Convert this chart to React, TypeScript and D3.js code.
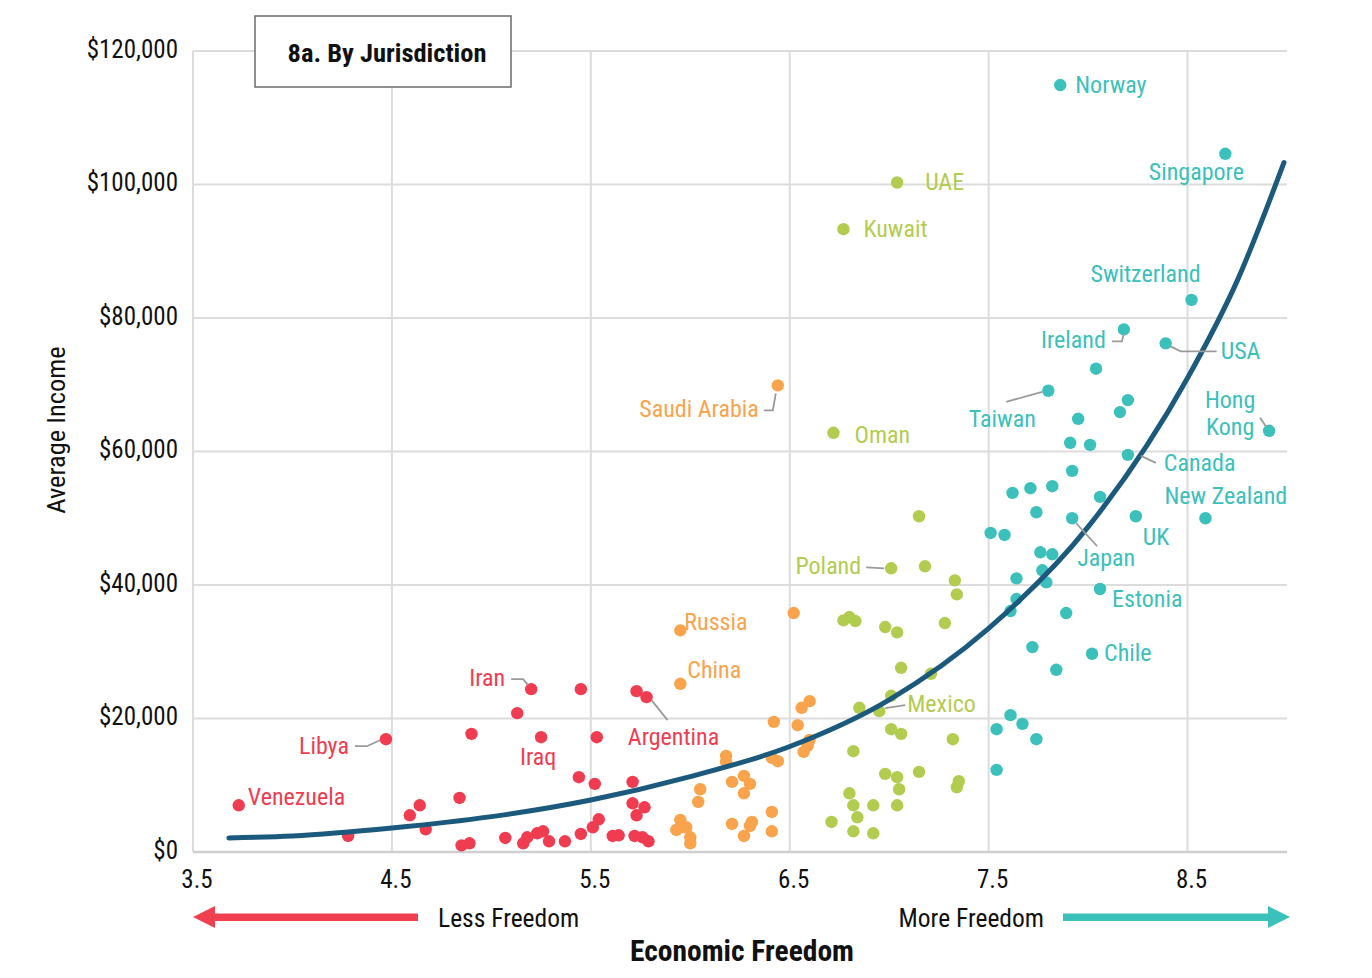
import * as d3 from 'd3';

// ---- data ----
const X_TICKS = [3.5, 4.5, 5.5, 6.5, 7.5, 8.5];
const Y_TICKS = [0, 20000, 40000, 60000, 80000, 100000, 120000];

type Pt = { x: number; y: number; name?: string };

// least free quartile
const leastFree: Pt[] = [
  { x: 3.73, y: 7000, name: 'Venezuela' }, { x: 4.28, y: 2400 }, { x: 4.47, y: 16900, name: 'Libya' },
  { x: 4.59, y: 5500 }, { x: 4.64, y: 7000 }, { x: 4.67, y: 3400 }, { x: 4.84, y: 8100 },
  { x: 4.9, y: 17700 }, { x: 4.85, y: 1000 }, { x: 4.89, y: 1300 }, { x: 5.07, y: 2100 },
  { x: 5.13, y: 20800 }, { x: 5.2, y: 24400, name: 'Iran' }, { x: 5.16, y: 1300 }, { x: 5.18, y: 2200 },
  { x: 5.23, y: 2800 }, { x: 5.26, y: 3100 }, { x: 5.29, y: 1600 }, { x: 5.25, y: 17200, name: 'Iraq' },
  { x: 5.37, y: 1600 }, { x: 5.44, y: 11200 }, { x: 5.45, y: 24400 }, { x: 5.45, y: 2700 },
  { x: 5.51, y: 3700 }, { x: 5.53, y: 17200 }, { x: 5.52, y: 10200 }, { x: 5.54, y: 4900 },
  { x: 5.61, y: 2400 }, { x: 5.64, y: 2500 }, { x: 5.71, y: 10500 }, { x: 5.71, y: 7300 },
  { x: 5.73, y: 5500 }, { x: 5.77, y: 6700 }, { x: 5.72, y: 2400 }, { x: 5.76, y: 2200 },
  { x: 5.79, y: 1600 }, { x: 5.73, y: 24100 }, { x: 5.78, y: 23200, name: 'Argentina' },
];

// second quartile
const lessFree: Pt[] = [
  { x: 5.95, y: 33200, name: 'Russia' }, { x: 5.95, y: 25200, name: 'China' },
  { x: 6.44, y: 69900, name: 'Saudi Arabia' }, { x: 6.52, y: 35800 }, { x: 6.6, y: 22600 },
  { x: 6.56, y: 21600 }, { x: 6.42, y: 19500 }, { x: 6.54, y: 19000 }, { x: 6.6, y: 16800 },
  { x: 6.59, y: 15900 }, { x: 6.57, y: 15000 }, { x: 6.18, y: 14400 }, { x: 6.18, y: 13500 },
  { x: 6.41, y: 14100 }, { x: 6.44, y: 13600 }, { x: 6.27, y: 11400 }, { x: 6.3, y: 10200 },
  { x: 6.21, y: 10500 }, { x: 6.27, y: 8800 }, { x: 6.05, y: 9400 }, { x: 6.04, y: 7500 },
  { x: 6.41, y: 6000 }, { x: 5.95, y: 4800 }, { x: 5.95, y: 3700 }, { x: 5.98, y: 3700 },
  { x: 5.93, y: 3300 }, { x: 6.0, y: 2200 }, { x: 6.0, y: 1300 }, { x: 6.21, y: 4200 },
  { x: 6.31, y: 4500 }, { x: 6.3, y: 3900 }, { x: 6.41, y: 3100 }, { x: 6.27, y: 2400 },
];

// third quartile
const moreFree: Pt[] = [
  { x: 7.04, y: 100300, name: 'UAE' }, { x: 6.77, y: 93300, name: 'Kuwait' }, { x: 6.72, y: 62800, name: 'Oman' },
  { x: 7.15, y: 50300 }, { x: 7.01, y: 42500, name: 'Poland' }, { x: 7.18, y: 42800 }, { x: 7.33, y: 40700 },
  { x: 7.34, y: 38600 }, { x: 6.77, y: 34700 }, { x: 6.8, y: 35200 }, { x: 6.83, y: 34600 },
  { x: 6.98, y: 33700 }, { x: 7.04, y: 32900 }, { x: 7.28, y: 34300 }, { x: 7.06, y: 27600 },
  { x: 7.21, y: 26700 }, { x: 7.01, y: 23400 }, { x: 6.95, y: 21100, name: 'Mexico' }, { x: 6.85, y: 21600 },
  { x: 7.01, y: 18400 }, { x: 7.06, y: 17700 }, { x: 7.32, y: 16900 }, { x: 6.82, y: 15100 },
  { x: 6.98, y: 11700 }, { x: 7.04, y: 11200 }, { x: 7.15, y: 12000 }, { x: 7.05, y: 9400 },
  { x: 7.35, y: 10600 }, { x: 7.34, y: 9700 }, { x: 6.8, y: 8800 }, { x: 6.82, y: 7000 },
  { x: 6.92, y: 7000 }, { x: 7.04, y: 7000 }, { x: 6.84, y: 5200 }, { x: 6.71, y: 4500 },
  { x: 6.82, y: 3100 }, { x: 6.92, y: 2800 },
];

// most free quartile
const mostFree: Pt[] = [
  { x: 7.86, y: 114900, name: 'Norway' }, { x: 8.69, y: 104600, name: 'Singapore' },
  { x: 8.52, y: 82700, name: 'Switzerland' }, { x: 8.18, y: 78300, name: 'Ireland' },
  { x: 8.39, y: 76200, name: 'USA' }, { x: 8.04, y: 72400 }, { x: 7.8, y: 69100, name: 'Taiwan' },
  { x: 8.2, y: 67700 }, { x: 8.16, y: 65900 }, { x: 7.95, y: 64900 }, { x: 8.91, y: 63100, name: 'Hong Kong' },
  { x: 7.91, y: 61300 }, { x: 8.01, y: 61000 }, { x: 8.2, y: 59500, name: 'Canada' }, { x: 7.92, y: 57100 },
  { x: 7.62, y: 53800 }, { x: 7.71, y: 54500 }, { x: 7.82, y: 54800 }, { x: 8.06, y: 53200 },
  { x: 7.74, y: 50900 }, { x: 7.92, y: 50000, name: 'Japan' }, { x: 8.24, y: 50300, name: 'UK' },
  { x: 8.59, y: 50000, name: 'New Zealand' }, { x: 7.51, y: 47800 }, { x: 7.58, y: 47500 },
  { x: 7.76, y: 44900 }, { x: 7.82, y: 44600 }, { x: 7.77, y: 42200 }, { x: 7.64, y: 41000 },
  { x: 7.79, y: 40400 }, { x: 8.06, y: 39400, name: 'Estonia' }, { x: 7.64, y: 37900 },
  { x: 7.61, y: 36100 }, { x: 7.89, y: 35800 }, { x: 7.72, y: 30700 }, { x: 8.02, y: 29700, name: 'Chile' },
  { x: 7.84, y: 27300 }, { x: 7.61, y: 20500 }, { x: 7.67, y: 19200 }, { x: 7.54, y: 18400 },
  { x: 7.74, y: 16900 }, { x: 7.54, y: 12300 },
];

// fitted trend
const trendX = [3.68, 4.0, 4.5, 5.0, 5.5, 6.0, 6.5, 7.0, 7.5, 8.0, 8.5, 8.75, 8.985];
const trendY = [2100, 2400, 3600, 5300, 7800, 11300, 15800, 22800, 33500, 48700, 71000, 85600, 103300];

// ---- layout ----
const FONT = "'Roboto Condensed', 'Liberation Sans Narrow', 'DejaVu Sans Condensed', Roboto, sans-serif";
const W = 1372;
const H = 978;
const LEFT = 193;
const RIGHT = 1287;
const TOP = 51;
const BOTTOM = 852;

const GROUPS = [
  { data: leastFree, color: '#f03c50' },
  { data: lessFree, color: '#f9a34c' },
  { data: moreFree, color: '#b2cc4f' },
  { data: mostFree, color: '#3cc0bb' },
];

type LabelSpec = {
  dx: number;
  dy: number;
  anchor: 'start' | 'middle' | 'end';
  lines?: string[];
  leader?: [number, number][];
};

// label offsets from the dot, in pixels
const LABELS: Record<string, LabelSpec> = {
  Venezuela: { dx: 9, dy: -8, anchor: 'start' },
  Libya: { dx: -37, dy: 7, anchor: 'end', leader: [[-31, 7], [-19, 7], [-6, 1]] },
  Iran: { dx: -26, dy: -11, anchor: 'end', leader: [[-20, -10], [-8, -10], [-3, -4]] },
  Iraq: { dx: -3, dy: 20, anchor: 'middle' },
  Argentina: { dx: 27, dy: 40, anchor: 'middle', leader: [[5, 3], [21, 23]] },
  Russia: { dx: 4, dy: -8, anchor: 'start' },
  China: { dx: 7, dy: -14, anchor: 'start' },
  'Saudi Arabia': { dx: -19, dy: 24, anchor: 'end', leader: [[-14, 25], [-5, 25], [-2, 8]] },
  UAE: { dx: 28, dy: 0, anchor: 'start' },
  Kuwait: { dx: 20, dy: 0, anchor: 'start' },
  Oman: { dx: 21, dy: 2, anchor: 'start' },
  Poland: { dx: -30, dy: -2, anchor: 'end', leader: [[-25, -1], [-7, 0]] },
  Mexico: { dx: 28, dy: -7, anchor: 'start', leader: [[6, -3], [26, -6]] },
  Norway: { dx: 15, dy: 0, anchor: 'start' },
  Singapore: { dx: -29, dy: 18, anchor: 'middle' },
  Switzerland: { dx: -46, dy: -26, anchor: 'middle' },
  Ireland: { dx: -18, dy: 11, anchor: 'end', leader: [[-12, 12], [-2, 12], [0, 4]] },
  USA: { dx: 55, dy: 8, anchor: 'start', leader: [[5, 3], [15, 8], [51, 8]] },
  Taiwan: { dx: -46, dy: 28, anchor: 'middle', leader: [[-42, 11], [-6, 1]] },
  'Hong Kong': { dx: -39, dy: -31, anchor: 'middle', lines: ['Hong', 'Kong'], leader: [[-9, -13], [-3, -4]] },
  Canada: { dx: 36, dy: 8, anchor: 'start', leader: [[13, 1], [28, 8]] },
  'New Zealand': { dx: -41, dy: -22, anchor: 'start' },
  UK: { dx: 7, dy: 21, anchor: 'start' },
  Japan: { dx: 5, dy: 40, anchor: 'start', leader: [[4, 5], [25, 28]] },
  Estonia: { dx: 12, dy: 10, anchor: 'start' },
  Chile: { dx: 12, dy: -1, anchor: 'start' },
};

export default function App() {
  const x = d3.scaleLinear().domain([3.5, 9.0]).range([LEFT, RIGHT]);
  const y = d3.scaleLinear().domain([0, 120000]).range([BOTTOM, TOP]);
  const fmt = d3.format('$,');

  const trend = d3.line<number>()
    .x((_, i) => x(trendX[i]))
    .y(d => y(d))
    .curve(d3.curveMonotoneX)(trendY) || '';

  const leaderPath = d3.line<[number, number]>();

  return (
    <div style={{ position: 'absolute', left: 0, top: 0 }}>
      <svg width={W} height={H} style={{ display: 'block', background: '#fff', fontFamily: FONT, fontStretch: 'condensed' }}>
        {/* grid */}
        <g stroke="#dcdcdc" strokeWidth={2}>
          {Y_TICKS.map(t => (
            <line key={`h${t}`} x1={LEFT} x2={RIGHT} y1={y(t)} y2={y(t)} />
          ))}
          {X_TICKS.map(t => (
            <line key={`v${t}`} x1={x(t)} x2={x(t)} y1={TOP} y2={BOTTOM} />
          ))}
        </g>
        <line x1={LEFT} x2={RIGHT} y1={BOTTOM} y2={BOTTOM} stroke="#cfcfcf" strokeWidth={2.5} />

        {/* tick labels */}
        <g fill="#111" fontSize={25}>
          {Y_TICKS.map(t => (
            <text key={`yl${t}`} x={178} y={y(t) - 2} textAnchor="end" dominantBaseline="central">{fmt(t)}</text>
          ))}
          {X_TICKS.map(t => (
            <text key={`xl${t}`} x={x(t) + 4} y={879} textAnchor="middle" dominantBaseline="central">{t.toFixed(1)}</text>
          ))}
        </g>
        <text transform="translate(55,430) rotate(-90)" textAnchor="middle" dominantBaseline="central" fontSize={26.5} fill="#111">
          Average Income
        </text>

        {/* dots */}
        {GROUPS.map((g, gi) => (
          <g key={gi} fill={g.color}>
            {g.data.map((d, i) => (
              <circle key={i} cx={x(d.x)} cy={y(d.y)} r={6.2} />
            ))}
          </g>
        ))}

        {/* trend */}
        <path d={trend} fill="none" stroke="#1b5a7c" strokeWidth={5} strokeLinecap="round" />

        {/* labels */}
        {GROUPS.map((g, gi) => (
          <g key={`lab${gi}`} fill={g.color} fontSize={24}>
            {g.data.filter(d => d.name && LABELS[d.name]).map(d => {
              const spec = LABELS[d.name as string];
              const px = x(d.x);
              const py = y(d.y);
              const lines = spec.lines || [d.name as string];
              return (
                <g key={d.name}>
                  {spec.leader && (
                    <path
                      d={leaderPath(spec.leader.map(([a, b]) => [px + a, py + b] as [number, number])) || ''}
                      fill="none"
                      stroke="#9a9a9a"
                      strokeWidth={1.8}
                    />
                  )}
                  {lines.map((ln, li) => (
                    <text
                      key={li}
                      x={px + spec.dx}
                      y={py + spec.dy + li * 27}
                      textAnchor={spec.anchor}
                      dominantBaseline="central"
                    >
                      {ln}
                    </text>
                  ))}
                </g>
              );
            })}
          </g>
        ))}

        {/* title box */}
        <rect x={255} y={16} width={256} height={71} fill="#fff" stroke="#6b6b6b" strokeWidth={1.5} />
        <text x={387} y={52} textAnchor="middle" dominantBaseline="central" fontSize={26.5} fontWeight={700} fill="#111">
          8a. By Jurisdiction
        </text>

        {/* freedom arrows */}
        <path d={`M${LEFT},917 L${LEFT + 22},906 L${LEFT + 22},913.5 L418,913.5 L418,921 L${LEFT + 22},921 L${LEFT + 22},928 Z`} fill="#f0404f" />
        <text x={438} y={918} dominantBaseline="central" fontSize={25.5} fill="#111">Less Freedom</text>
        <path d={`M1290,917 L1268,906 L1268,913.5 L1063,913.5 L1063,921 L1268,921 L1268,928 Z`} fill="#3cc0bb" />
        <text x={1044} y={918} textAnchor="end" dominantBaseline="central" fontSize={25.5} fill="#111">More Freedom</text>
        <text x={742} y={951} textAnchor="middle" dominantBaseline="central" fontSize={29.5} fontWeight={700} fill="#111">
          Economic Freedom
        </text>
      </svg>
    </div>
  );
}
